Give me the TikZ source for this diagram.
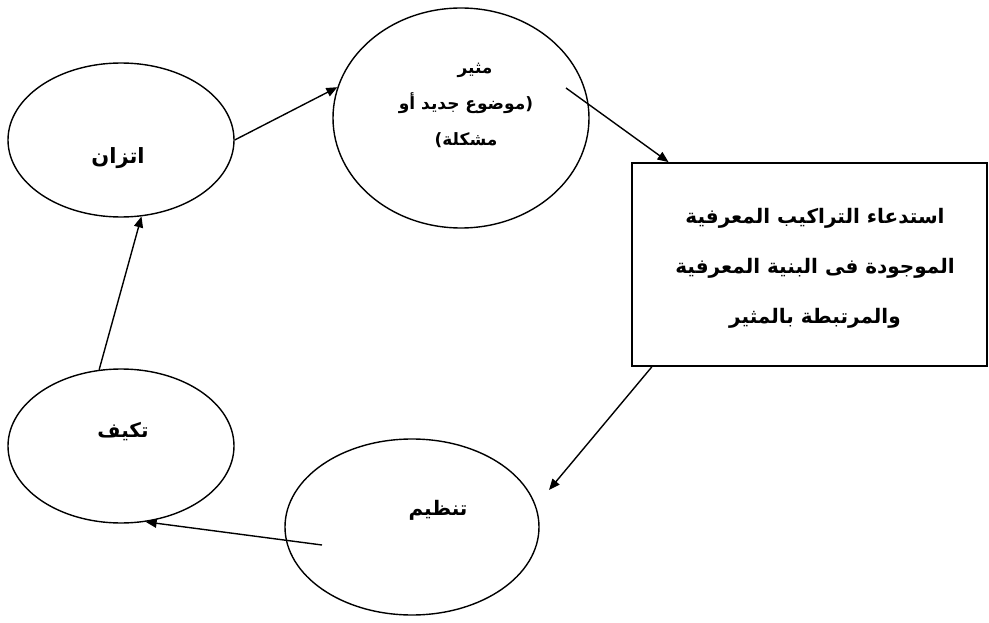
\documentclass[tikz,border=0pt]{standalone}
\usepackage{fontspec}
\usetikzlibrary{shapes.geometric,arrows.meta}
\newfontfamily\arabicfont[Script=Arabic]{DejaVu Sans}
\newfontfamily\latinfont{DejaVu Sans}
\TeXXeTstate=1
\begin{document}
\begin{tikzpicture}[x=1pt,y=-1pt,
  bub/.style={ellipse, draw, line width=1.4pt, inner sep=0pt},
  arr/.style={-{Triangle[length=11pt,width=9pt]}, line width=1.4pt},
  lbl/.style={font=\arabicfont\bfseries\fontsize{20}{24}\selectfont, inner sep=0pt},
  boxtext/.style={font=\arabicfont\bfseries\fontsize{20}{50}\selectfont, inner sep=0pt, align=center},
  smalltext/.style={font=\arabicfont\bfseries\fontsize{17}{36}\selectfont, inner sep=0pt, align=center}]
\useasboundingbox (0,0) rectangle (989,623);
\fill[white] (0,0) rectangle (989,623);

\node[bub, minimum width=226pt, minimum height=154pt] (itizan) at (121,140) {};
\node[bub, minimum width=226pt, minimum height=154pt] (takyif) at (121,446) {};
\node[bub, minimum width=256pt, minimum height=220pt] (mutheer) at (461,118) {};
\node[bub, minimum width=254pt, minimum height=176pt] (tanzim) at (412,527) {};
\node[draw, line width=1.8pt, minimum width=355pt, minimum height=203pt, inner sep=0pt] (box) at (809.5,264.5) {};

\node[lbl, font=\arabicfont\bfseries\fontsize{21}{24}\selectfont] (titizan) at (118,158) {\beginR اتزان\endR};
\node[lbl] (ttakyif) at (123,432) {\beginR تكيف\endR};
\node[lbl] (ttanzim) at (438,510) {\beginR تنظيم\endR};
\node[smalltext] (tmutheer) at (466,105) {\hspace*{18pt}\beginR مثير\endR\\\beginR موضوع جديد أو\endR{\latinfont\bfseries )}\\{\latinfont\bfseries (}\beginR مشكلة\endR};
\node[boxtext] (tbox) at (815,268) {\beginR استدعاء التراكيب المعرفية\endR\\\beginR الموجودة فى البنية المعرفية\endR\\\beginR والمرتبطة بالمثير\endR};

\coordinate (m1) at (566,88);
\coordinate (t1) at (549,490);
\coordinate (z1) at (322,545);
\draw[arr] (itizan.east) -- (mutheer.166.7);
\draw[arr] (m1) -- (box.144.3);
\draw[arr] (box.213.3) -- (t1);
\draw[arr] (z1) -- (takyif.288);
\draw[arr] (takyif.106.8) -- (itizan.285.4);
\end{tikzpicture}
\end{document}
